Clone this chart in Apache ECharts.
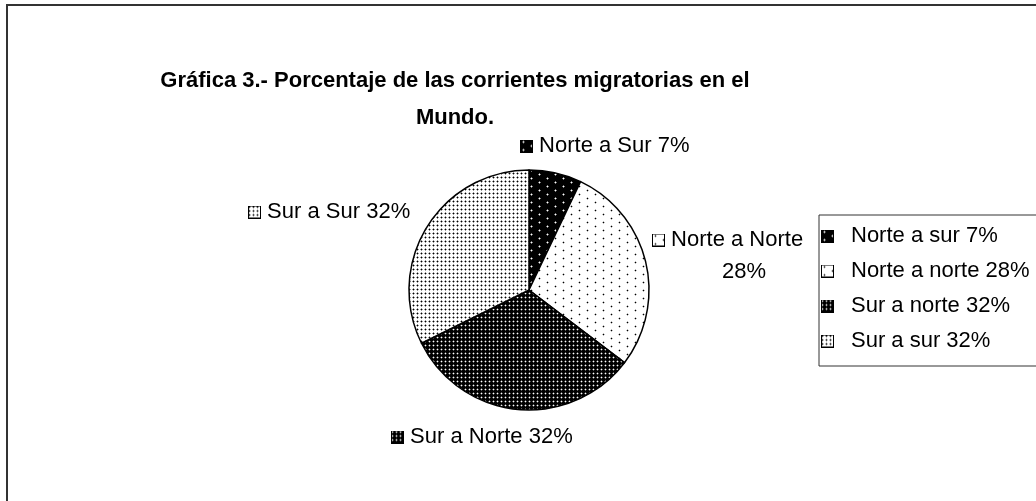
<!DOCTYPE html>
<html>
<head>
<meta charset="utf-8">
<script src="https://cdn.jsdelivr.net/npm/echarts@6/dist/echarts.min.js"></script>
<style>
html, body { margin: 0; padding: 0; background: #fff; }
#main { width: 1036px; height: 501px; }
</style>
</head>
<body>
<div id="main"></div>
<script>
// datos
var categories = ['Norte a sur', 'Norte a norte', 'Sur a norte', 'Sur a sur'];
var pieLabels = ['Norte a Sur', 'Norte a Norte', 'Sur a Norte', 'Sur a Sur'];
var values = [7, 28, 32, 32];

var FONT = '"Liberation Sans", Arial, sans-serif';
var titleText = 'Gráfica 3.- Porcentaje de las corrientes migratorias en el\nMundo.';

// tramas de puntos (estilo Excel)
function makeTile(w, h, bg, dots, dotColor, haloColor) {
    var c = document.createElement('canvas');
    c.width = w;
    c.height = h;
    var ctx = c.getContext('2d');
    ctx.fillStyle = bg;
    ctx.fillRect(0, 0, w, h);
    dots.forEach(function (d) {
        if (haloColor) {
            ctx.fillStyle = haloColor;
            ctx.fillRect(d[0] - 1, d[1], 3, 1);
            ctx.fillRect(d[0], d[1] - 1, 1, 3);
        }
        ctx.fillStyle = dotColor;
        ctx.fillRect(d[0], d[1], 1, 1);
    });
    return c;
}
var tiles = [
    makeTile(16, 8, '#000', [[3, 2], [11, 6]], '#fff', '#777'),
    makeTile(16, 8, '#fff', [[3, 2], [11, 6]], '#000', '#bbb'),
    makeTile(4, 4, '#000', [[1, 1]], '#fff', '#555'),
    makeTile(4, 4, '#fff', [[1, 1]], '#000', '#999')
];

// iconos cuadrados (leyenda y etiquetas)
function makeIcon(tile, w) {
    var c = document.createElement('canvas');
    c.width = w;
    c.height = 13;
    var ctx = c.getContext('2d');
    ctx.fillStyle = ctx.createPattern(tile, 'repeat');
    ctx.fillRect(1, 1, 11, 11);
    ctx.strokeStyle = '#000';
    ctx.lineWidth = 1;
    ctx.strokeRect(0.5, 0.5, 12, 12);
    return c;
}
var labelIcons = tiles.map(function (t) { return makeIcon(t, 13) });
var legendIcons = tiles.map(function (t) { return makeIcon(t, 25).toDataURL() });

var rich = { pad: { width: 70 } };
labelIcons.forEach(function (ic, i) {
    rich['i' + i] = { width: 13, height: 13, backgroundColor: { image: ic } };
});

var labelAnchors = [[520, 146], [652, 256], [391, 437], [248, 212]];

var chart = echarts.init(document.getElementById('main'));
chart.setOption({
    animation: false,
    backgroundColor: '#fff',
    title: {
        text: titleText,
        left: 455, // con textAlign center, es el centro del titulo
        top: 62,
        textAlign: 'center',
        padding: 0,
        textStyle: { fontFamily: FONT, fontSize: 22, fontWeight: 'bold', lineHeight: 37, color: '#000' }
    },
    legend: {
        orient: 'vertical',
        left: 819,
        top: 215,
        data: categories.map(function (n, i) { return { name: n, icon: 'image://' + legendIcons[i] } }),
        itemWidth: 25,
        itemHeight: 13,
        itemGap: 13,
        padding: [10, 12, 14, 2],
        borderColor: '#333',
        borderWidth: 1,
        selectedMode: false,
        textStyle: { fontFamily: FONT, fontSize: 22, lineHeight: 22, color: '#000' },
        formatter: function (name) {
            var i = categories.indexOf(name);
            return name + ' ' + values[i] + '%';
        }
    },
    graphic: [{
        type: 'rect',
        silent: true,
        shape: { x: 7, y: 5, width: 1100, height: 600 },
        style: { fill: null, stroke: '#333', lineWidth: 2 }
    }],
    series: [{
        type: 'pie',
        center: [529, 290],
        radius: 120,
        startAngle: 90,
        clockwise: true,
        emphasis: { disabled: true },
        itemStyle: { borderColor: '#000', borderWidth: 1.5 },
        data: values.map(function (v, i) {
            return { name: categories[i], value: v, itemStyle: { color: { image: tiles[i], repeat: 'repeat' } } };
        }),
        label: {
            show: true,
            fontFamily: FONT,
            fontSize: 22,
            lineHeight: 32,
            color: '#000',
            rich: rich,
            formatter: function (p) {
                var t = '{i' + p.dataIndex + '|} ' + pieLabels[p.dataIndex];
                if (p.dataIndex === 1) return t + '\n{pad|}' + p.value + '%';
                return t + ' ' + p.value + '%';
            }
        },
        labelLine: { show: false },
        labelLayout: function (p) {
            var a = labelAnchors[p.dataIndex];
            return { x: a[0], y: a[1], align: 'left', verticalAlign: 'middle' };
        }
    }]
});
</script>
</body>
</html>
